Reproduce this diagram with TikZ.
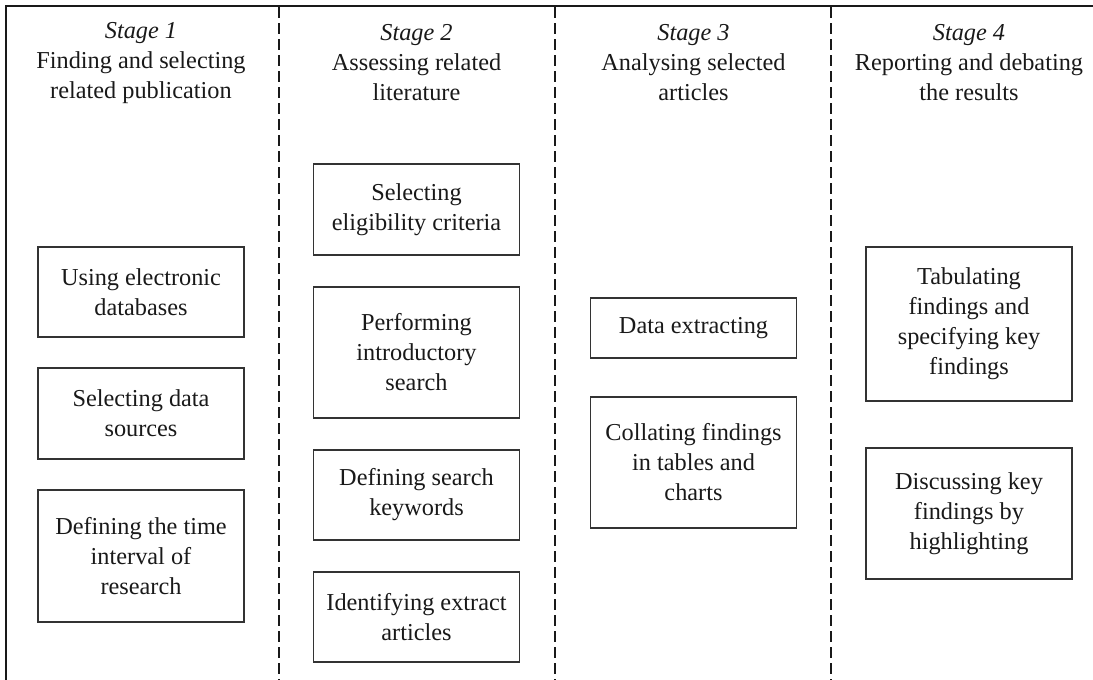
\documentclass[tikz,border=0pt]{standalone}
\usepackage{fontspec}
\setmainfont{Liberation Serif}
\begin{document}
\begin{tikzpicture}[x=1pt,y=-1pt,
  every node/.style={font=\fontsize{24.3}{30}\selectfont, text=black!90, align=center},
  box/.style={draw=black!80, line width=1.4pt, minimum width=206pt, inner sep=0pt},
  head/.style={inner sep=0pt},
  separator/.style={line width=2.4pt, dash pattern=on 11pt off 5pt, black!90},
  frame/.style={line width=2pt, black!90}]
\useasboundingbox (0,0) rectangle (1093,680);

% frame along the left and top
\coordinate (fl) at (6,680);
\coordinate (fc) at (6,6);
\coordinate (fr) at (1093,6);
\draw[frame] (fl) -- (fc) -- (fr);

% column separators
\foreach \x/\n in {279/s1,555/s2,831/s3}{
  \coordinate (\n t) at (\x,7);
  \coordinate (\n b) at (\x,680);
  \draw[separator] (\n t) -- (\n b);
}

% stage headings
\node[head] (h1) at (141,63) {\textit{Stage 1}\\Finding and selecting\\related publication};
\node[head] (h2) at (416.5,63) {\textit{Stage 2}\\Assessing related\\literature};
\node[head] (h3) at (693.5,63) {\textit{Stage 3}\\Analysing selected\\articles};
\node[head] (h4) at (969,63) {\textit{Stage 4}\\Reporting and debating\\the results};

% stage 1
\node[box, minimum height=90pt] (a1) at (141,292) {Using electronic\\databases};
\node[box, minimum height=91pt] (a2) at (141,413.5) {Selecting data\\sources};
\node[box, minimum height=132pt] (a3) at (141,556) {Defining the time\\interval of\\research};

% stage 2
\node[box, minimum height=91pt] (b1) at (416.5,209.5) {Selecting\\eligibility criteria};
\node[box, minimum height=131pt] (b2) at (416.5,352.5) {Performing\\introductory\\search};
\node[box, minimum height=90pt] (b3) at (416.5,495) {Defining search\\keywords};
\node[box, minimum height=90pt] (b4) at (416.5,617) {Identifying extract\\articles};

% stage 3
\node[box, minimum height=60pt] (c1) at (693.5,328) {Data extracting};
\node[box, minimum height=131pt] (c2) at (693.5,462.5) {Collating findings\\in tables and\\charts};

% stage 4
\node[box, minimum height=154pt] (d1) at (969,324) {Tabulating\\findings and\\specifying key\\findings};
\node[box, minimum height=131pt] (d2) at (969,513.5) {Discussing key\\findings by\\highlighting};
\end{tikzpicture}
\end{document}
